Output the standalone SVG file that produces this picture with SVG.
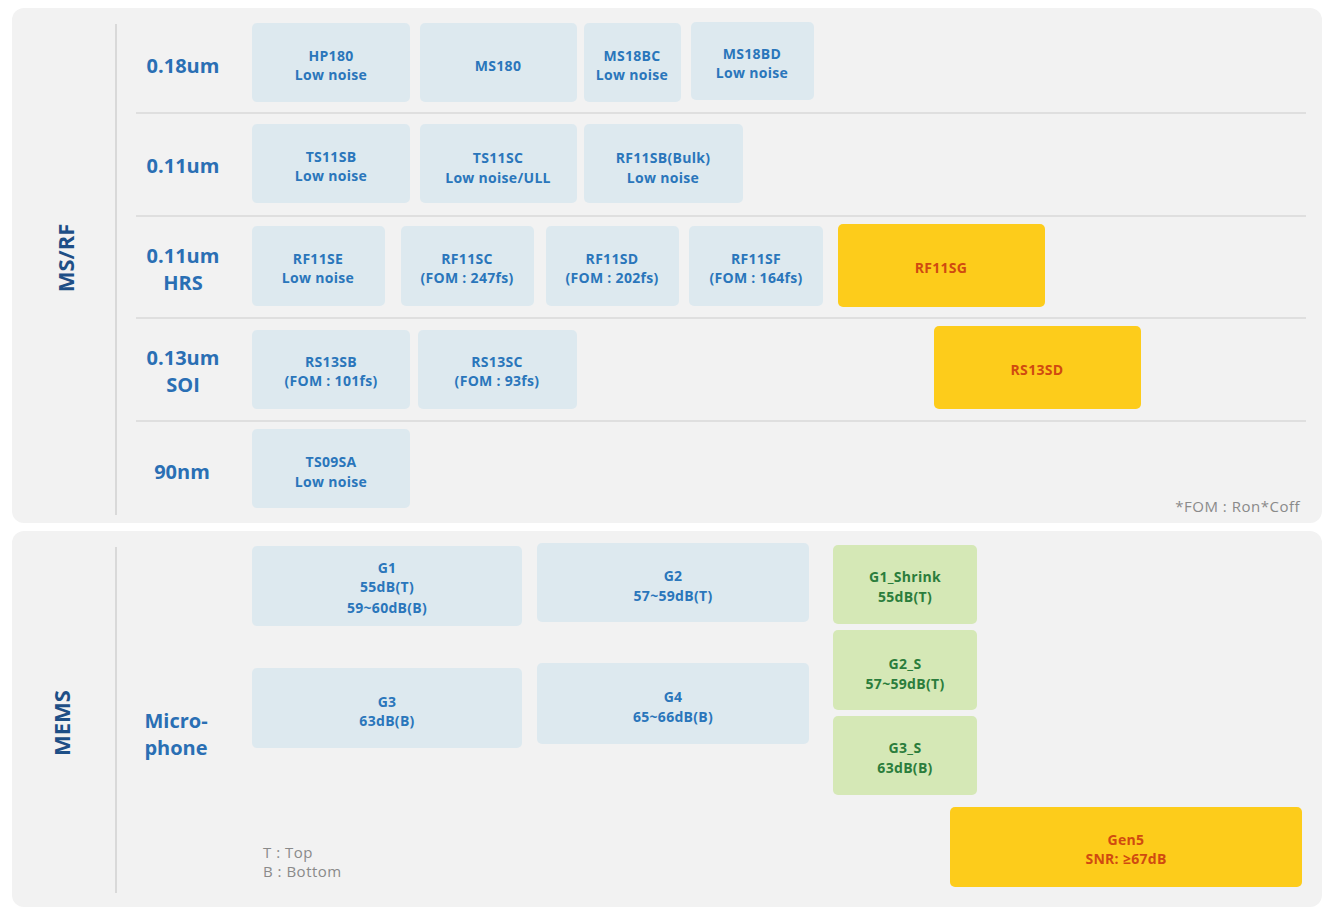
<svg xmlns="http://www.w3.org/2000/svg" width="1334" height="915" viewBox="0 0 1334 915">
<style>
.panel{fill:#f2f2f2}
.sep{stroke:#d9d9d9;stroke-width:1.5}
.vl{stroke:#d0d0d0;stroke-width:1.5}
.b{fill:#dde9ef}
.g{fill:#d5e8b6}
.y{fill:#fdcc1b}
text{font-family:"Open Sans","Noto Sans",sans-serif;font-weight:bold;text-anchor:middle}
.t{font-size:14px;fill:#2a76bb;letter-spacing:0.3px}
.tg{font-size:14px;fill:#2b7d3c;letter-spacing:0.3px}
.ty{font-size:14px;fill:#d04a10;letter-spacing:0.3px}
.row{font-size:20px;fill:#2a6fb4}
.sec{font-size:22px;fill:#1e4f86}
.note{font-size:15px;fill:#8a8a8a;font-weight:normal;letter-spacing:0.5px}
</style>
<rect width="1334" height="915" fill="#ffffff"/>
<rect class="panel" x="12" y="8" width="1310" height="515" rx="12"/>
<rect class="panel" x="12" y="531" width="1310" height="376" rx="12"/>
<g id="connectors">
<line class="vl" x1="116" y1="24" x2="116" y2="515"/>
<line class="sep" x1="136" y1="113" x2="1306" y2="113"/>
<line class="sep" x1="136" y1="216" x2="1306" y2="216"/>
<line class="sep" x1="136" y1="318" x2="1306" y2="318"/>
<line class="sep" x1="136" y1="421" x2="1306" y2="421"/>
<line class="vl" x1="116" y1="547" x2="116" y2="893"/>
</g>
<g id="sec-msrf"><text class="sec" transform="translate(66,258) rotate(-90)" dy="8">MS/RF</text></g>
<g id="sec-mems"><text class="sec" transform="translate(62,723) rotate(-90)" dy="8">MEMS</text></g>
<g id="row-018"><text class="row" x="183" y="73">0.18um</text></g>
<g id="row-011"><text class="row" x="183" y="173">0.11um</text></g>
<g id="row-011hrs"><text class="row" x="183" y="263">0.11um</text><text class="row" x="183" y="290">HRS</text></g>
<g id="row-013soi"><text class="row" x="183" y="365">0.13um</text><text class="row" x="183" y="392">SOI</text></g>
<g id="row-90"><text class="row" x="182" y="479">90nm</text></g>
<g id="row-mic"><text class="row" x="176" y="728">Micro-</text><text class="row" x="176" y="755">phone</text></g>

<g id="HP180"><rect class="b" x="252" y="23" width="158" height="79" rx="5"/><text class="t" x="331" y="61">HP180</text><text class="t" x="331" y="80">Low noise</text></g>
<g id="MS180"><rect class="b" x="420" y="23" width="157" height="79" rx="5"/><text class="t" x="498" y="71">MS180</text></g>
<g id="MS18BC"><rect class="b" x="584" y="23" width="97" height="79" rx="5"/><text class="t" x="632" y="61">MS18BC</text><text class="t" x="632" y="80">Low noise</text></g>
<g id="MS18BD"><rect class="b" x="691" y="22" width="123" height="78" rx="5"/><text class="t" x="752" y="59">MS18BD</text><text class="t" x="752" y="78">Low noise</text></g>

<g id="TS11SB"><rect class="b" x="252" y="124" width="158" height="79" rx="5"/><text class="t" x="331" y="162">TS11SB</text><text class="t" x="331" y="181">Low noise</text></g>
<g id="TS11SC"><rect class="b" x="420" y="124" width="157" height="79" rx="5"/><text class="t" x="498" y="163">TS11SC</text><text class="t" x="498" y="183">Low noise/ULL</text></g>
<g id="RF11SB"><rect class="b" x="584" y="124" width="159" height="79" rx="5"/><text class="t" x="663" y="163">RF11SB(Bulk)</text><text class="t" x="663" y="183">Low noise</text></g>

<g id="RF11SE"><rect class="b" x="252" y="226" width="133" height="80" rx="5"/><text class="t" x="318" y="264">RF11SE</text><text class="t" x="318" y="283">Low noise</text></g>
<g id="RF11SC"><rect class="b" x="401" y="226" width="133" height="80" rx="5"/><text class="t" x="467" y="264">RF11SC</text><text class="t" x="467" y="283">(FOM : 247fs)</text></g>
<g id="RF11SD"><rect class="b" x="546" y="226" width="133" height="80" rx="5"/><text class="t" x="612" y="264">RF11SD</text><text class="t" x="612" y="283">(FOM : 202fs)</text></g>
<g id="RF11SF"><rect class="b" x="689" y="226" width="134" height="80" rx="5"/><text class="t" x="756" y="264">RF11SF</text><text class="t" x="756" y="283">(FOM : 164fs)</text></g>
<g id="RF11SG"><rect class="y" x="838" y="224" width="207" height="83" rx="5"/><text class="ty" x="941" y="273">RF11SG</text></g>

<g id="RS13SB"><rect class="b" x="252" y="330" width="158" height="79" rx="5"/><text class="t" x="331" y="367">RS13SB</text><text class="t" x="331" y="386">(FOM : 101fs)</text></g>
<g id="RS13SC"><rect class="b" x="418" y="330" width="159" height="79" rx="5"/><text class="t" x="497" y="367">RS13SC</text><text class="t" x="497" y="386">(FOM : 93fs)</text></g>
<g id="RS13SD"><rect class="y" x="934" y="326" width="207" height="83" rx="5"/><text class="ty" x="1037" y="375">RS13SD</text></g>

<g id="TS09SA"><rect class="b" x="252" y="429" width="158" height="79" rx="5"/><text class="t" x="331" y="467">TS09SA</text><text class="t" x="331" y="487">Low noise</text></g>
<g id="fom-note"><text class="note" x="1300" y="512" style="text-anchor:end">*FOM : Ron*Coff</text></g>

<g id="G1"><rect class="b" x="252" y="546" width="270" height="80" rx="5"/><text class="t" x="387" y="573">G1</text><text class="t" x="387" y="592">55dB(T)</text><text class="t" x="387" y="613">59~60dB(B)</text></g>
<g id="G2"><rect class="b" x="537" y="543" width="272" height="79" rx="5"/><text class="t" x="673" y="581">G2</text><text class="t" x="673" y="601">57~59dB(T)</text></g>
<g id="G3"><rect class="b" x="252" y="668" width="270" height="80" rx="5"/><text class="t" x="387" y="707">G3</text><text class="t" x="387" y="726">63dB(B)</text></g>
<g id="G4"><rect class="b" x="537" y="663" width="272" height="81" rx="5"/><text class="t" x="673" y="702">G4</text><text class="t" x="673" y="722">65~66dB(B)</text></g>
<g id="G1_Shrink"><rect class="g" x="833" y="545" width="144" height="79" rx="5"/><text class="tg" x="905" y="582">G1_Shrink</text><text class="tg" x="905" y="602">55dB(T)</text></g>
<g id="G2_S"><rect class="g" x="833" y="630" width="144" height="80" rx="5"/><text class="tg" x="905" y="669">G2_S</text><text class="tg" x="905" y="689">57~59dB(T)</text></g>
<g id="G3_S"><rect class="g" x="833" y="716" width="144" height="79" rx="5"/><text class="tg" x="905" y="753">G3_S</text><text class="tg" x="905" y="773">63dB(B)</text></g>
<g id="Gen5"><rect class="y" x="950" y="807" width="352" height="80" rx="5"/><text class="ty" x="1126" y="845">Gen5</text><text class="ty" x="1126" y="864">SNR: ≥67dB</text></g>
<g id="legend"><text class="note" x="263" y="858" style="text-anchor:start">T : Top</text><text class="note" x="263" y="877" style="text-anchor:start">B : Bottom</text></g>
</svg>
